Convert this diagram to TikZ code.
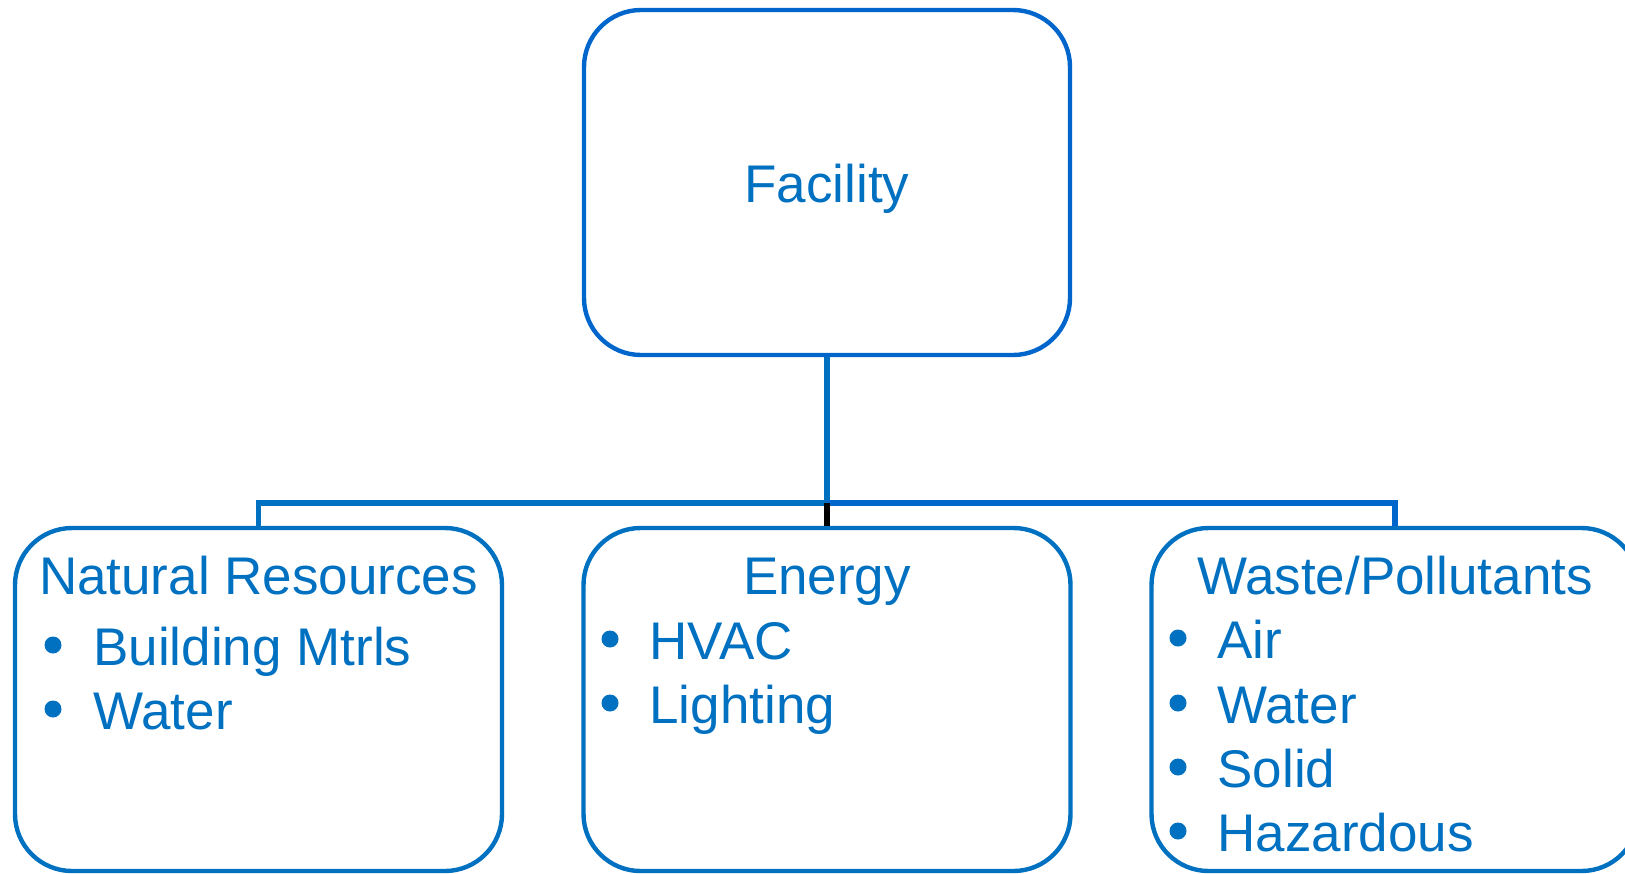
\documentclass[tikz,border=0pt]{standalone}
\usepackage{fontspec}
\setmainfont{Liberation Sans}
\definecolor{boxblue}{HTML}{0070C0}
\definecolor{topblue}{HTML}{0066CC}
\begin{document}
\begin{tikzpicture}[x=0.5pt,y=-0.5pt,
  card/.style={draw=boxblue, line width=2.2pt, rounded corners=28.5pt,
    minimum width=243.5pt, minimum height=171.5pt, inner sep=0pt},
  label/.style={text=boxblue, inner sep=0pt, font=\fontsize{26.5}{32}\selectfont},
  dot/.style={circle, fill=boxblue, minimum size=8.5pt, inner sep=0pt},
  link/.style={line width=2.6pt}]
\useasboundingbox (0,0) rectangle (1625,873);
\clip (0,0) rectangle (1625,873);

% top box
\node[card, draw=topblue, minimum height=172.5pt, minimum width=243pt] (facility) at (827,182.5) {};
\node[label, anchor=base] (factext) at (827,202) {Facility};

% three category boxes
\node[card] (natres) at (258.5,699.5) {};
\node[card] (energy) at (827,699.5) {};
\node[card] (waste)  at (1395,699.5) {};

% connectors
\coordinate (hub) at (827,503);
\draw[link, boxblue] (facility.south) -- (hub);
\draw[link, boxblue] (hub) -| (natres.north);
\draw[link, topblue] (hub) -| (waste.north);
\draw[link, black] (hub) -- (energy.north);

% titles
\node[label, anchor=base] (nrtitle) at (258.5,594) {Natural Resources};
\node[label, anchor=base] (entitle) at (827,594) {Energy};
\node[label, anchor=base] (wptitle) at (1395,594) {Waste/Pollutants};

% natural resources items
\node[dot] (nrd1) at (53,645) {};
\node[label, anchor=base west] (nr1) at (93,665) {Building Mtrls};
\node[dot] (nrd2) at (53,709) {};
\node[label, anchor=base west] (nr2) at (93,729) {Water};

% energy items
\node[dot] (end1) at (610,639) {};
\node[label, anchor=base west] (en1) at (649,659) {HVAC};
\node[dot] (end2) at (610,703) {};
\node[label, anchor=base west] (en2) at (649,723) {Lighting};

% waste items
\node[dot] (wpd1) at (1178,638) {};
\node[label, anchor=base west] (wp1) at (1217,658) {Air};
\node[dot] (wpd2) at (1178,703) {};
\node[label, anchor=base west] (wp2) at (1217,723) {Water};
\node[dot] (wpd3) at (1178,767) {};
\node[label, anchor=base west] (wp3) at (1217,787) {Solid};
\node[dot] (wpd4) at (1178,831) {};
\node[label, anchor=base west] (wp4) at (1217,851) {Hazardous};
\end{tikzpicture}
\end{document}
